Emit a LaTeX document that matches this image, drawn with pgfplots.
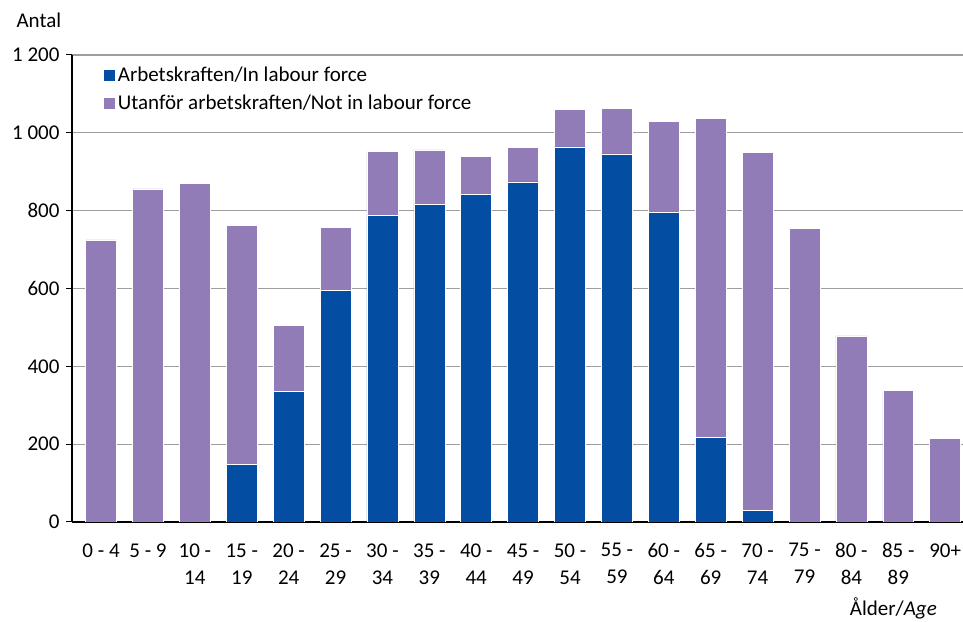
\documentclass[border=0pt]{standalone}
\usepackage{pgfplots}
\pgfplotsset{compat=1.18}
\usepackage{fontspec}
\setmainfont{Carlito}
\definecolor{lfblue}{RGB}{3,78,162}
\definecolor{lfpurple}{RGB}{146,124,184}
\begin{document}
\begin{tikzpicture}[font=\fontsize{21bp}{25bp}\selectfont]
\useasboundingbox (0,0) rectangle (963bp,622bp);
\begin{axis}[
  at={(72bp,100bp)}, anchor=south west, scale only axis,
  width=891bp, height=467bp,
  ybar stacked, bar width=0.66,
  xmin=-0.62, xmax=18.38, ymin=0, ymax=1200,
  axis x line*=bottom, axis y line*=left,
  axis line style={-, black, line width=1.1bp},
  ytick={0,200,...,1200},
  yticklabels={0,200,400,600,800,1 000,1 200},
  yticklabel style={xshift=-3bp},
  ymajorgrids, grid style={black!38, line width=1.3bp},
  tick align=outside, major tick length=6bp,
  ytick style={black, line width=1bp},
  xtick=data, xtick style={draw=none},
  xticklabels={0 - 4,5 - 9,10 -\\14,15 -\\19,20 -\\24,25 -\\29,30 -\\34,35 -\\39,40 -\\44,45 -\\49,50 -\\54,55 -\\59,60 -\\64,65 -\\69,70 -\\74,75 -\\79,80 -\\84,85 -\\89,90+},
  xticklabel style={align=center, anchor=north, yshift=-12bp, font=\fontsize{21bp}{27bp}\selectfont},
  legend style={at={(0.036,0.981)}, anchor=north west, draw=none, fill=none,
    inner sep=0pt, row sep=6bp, font=\fontsize{21bp}{25bp}\selectfont,
    nodes={inner sep=3bp}},
  legend cell align=left,
]
\addplot[fill=lfblue, draw=white, line width=0.6bp,
  legend image code/.code={\fill[lfblue] (0bp,-5bp) rectangle (10bp,5bp);}]
  coordinates {(0,0) (1,0) (2,0) (3,148) (4,336) (5,596) (6,788) (7,816) (8,841) (9,874)
    (10,964) (11,946) (12,796) (13,218) (14,29) (15,0) (16,0) (17,0) (18,0)};
\addlegendentry{Arbetskraften/In labour force}
\addplot[fill=lfpurple, draw=white, line width=0.6bp,
  legend image code/.code={\fill[lfpurple] (0bp,-5bp) rectangle (10bp,5bp);}]
  coordinates {(0,725) (1,856) (2,870) (3,615) (4,169) (5,160) (6,165) (7,140) (8,98) (9,88)
    (10,96) (11,117) (12,233) (13,820) (14,921) (15,755) (16,478) (17,338) (18,214)};
\addlegendentry{Utanför arbetskraften/Not in labour force}
\end{axis}
\node[anchor=base east, inner sep=0pt] at (937bp,6.5bp) {Ålder/\textit{Age}};
\node[anchor=west] at (13bp,602bp) {Antal};
\end{tikzpicture}
\end{document}
